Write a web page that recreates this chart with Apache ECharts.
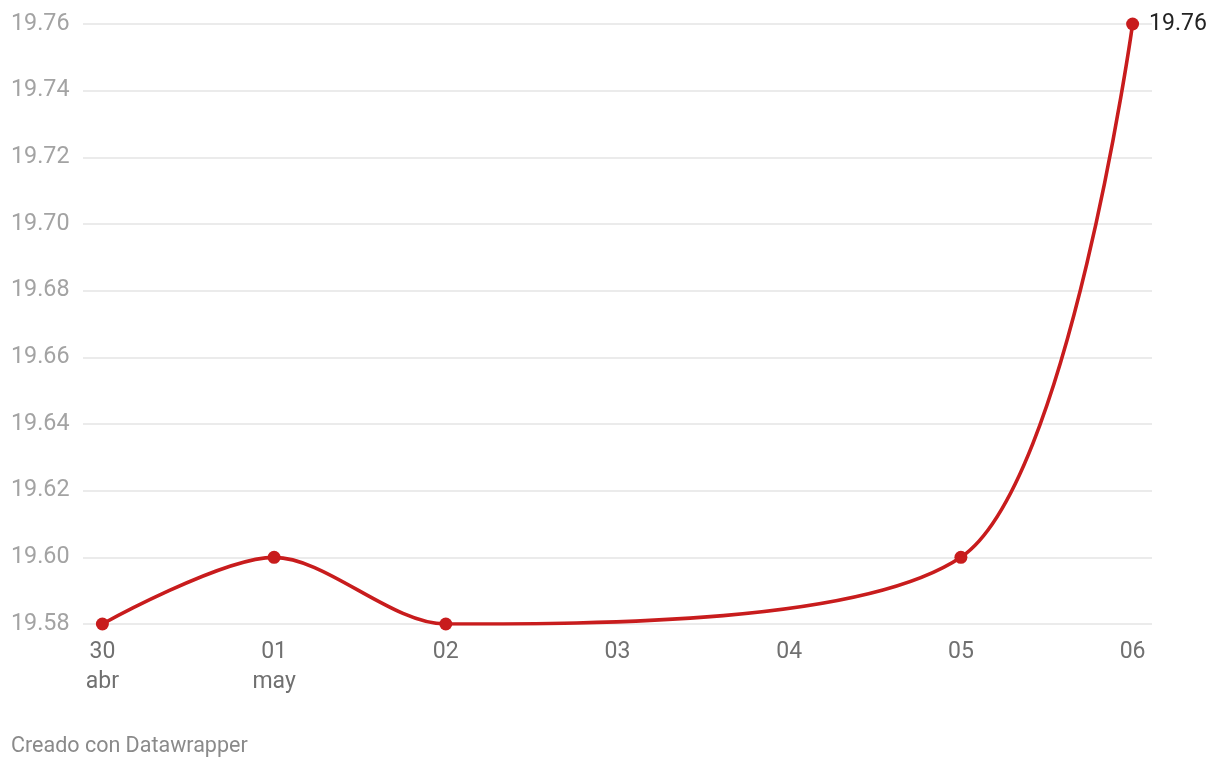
<!DOCTYPE html>
<html>
<head>
<meta charset="utf-8">
<script src="https://cdn.jsdelivr.net/npm/echarts@6/dist/echarts.min.js"></script>
<style>
html,body{margin:0;padding:0;background:#fff;}
#c{width:1220px;height:770px;}
</style>
</head>
<body>
<div id="c"></div>
<script>
// day index (0 = 30 abr)
const dayIndex = [0, 1, 2, 5, 6];
const values = [19.58, 19.60, 19.58, 19.60, 19.76];
const tickDays = [0, 1, 2, 3, 4, 5, 6];
const tickLabels = ['30\nabr', '01\nmay', '02', '03', '04', '05', '06'];
const yMin = 19.58, yMax = 19.76, yStep = 0.02;

const chart = echarts.init(document.getElementById('c'), null, {renderer: 'canvas'});
const lastIdx = values.length - 1;
chart.setOption({
  animation: false,
  backgroundColor: '#ffffff',
  textStyle: {fontFamily: 'Roboto'},
  grid: {left: 83, right: 68, top: 24, bottom: 146},
  graphic: [{
    type: 'text', x: 11, y: 747,
    style: {text: 'Creado con Datawrapper', fill: '#8a8a8a', fontSize: 21.5, fontFamily: 'Roboto', verticalAlign: 'middle'}
  }],
  xAxis: {
    type: 'value',
    min: -0.113, max: 6.113,
    axisLine: {show: false},
    axisTick: {show: false},
    splitLine: {show: false},
    axisLabel: {
      customValues: tickDays,
      formatter: v => tickLabels[tickDays.indexOf(Math.round(v))],
      color: '#707070', fontSize: 23, lineHeight: 30, margin: 13,
      fontFamily: 'Roboto'
    }
  },
  yAxis: {
    type: 'value',
    min: yMin, max: yMax, interval: yStep,
    axisLine: {show: false},
    axisTick: {show: false},
    splitLine: {lineStyle: {color: '#e4e4e4', width: 1.6}},
    axisLabel: {
      formatter: v => v.toFixed(2),
      color: '#a3a3a3', fontSize: 23.3, align: 'left', margin: 72,
      fontFamily: 'Roboto'
    }
  },
  series: [{
    type: 'line',
    data: dayIndex.map((d, i) => [d, values[i]]),
    smooth: 0.3,
    symbol: 'circle',
    symbolSize: 13,
    lineStyle: {color: '#c81c1d', width: 3.6},
    itemStyle: {color: '#c81c1d'},
    label: {
      show: true, position: 'right', distance: 10,
      formatter: p => p.dataIndex === lastIdx ? p.value[1].toFixed(2) : '',
      color: '#222', fontSize: 23, fontFamily: 'Roboto'
    }
  }]
});
</script>
</body>
</html>
